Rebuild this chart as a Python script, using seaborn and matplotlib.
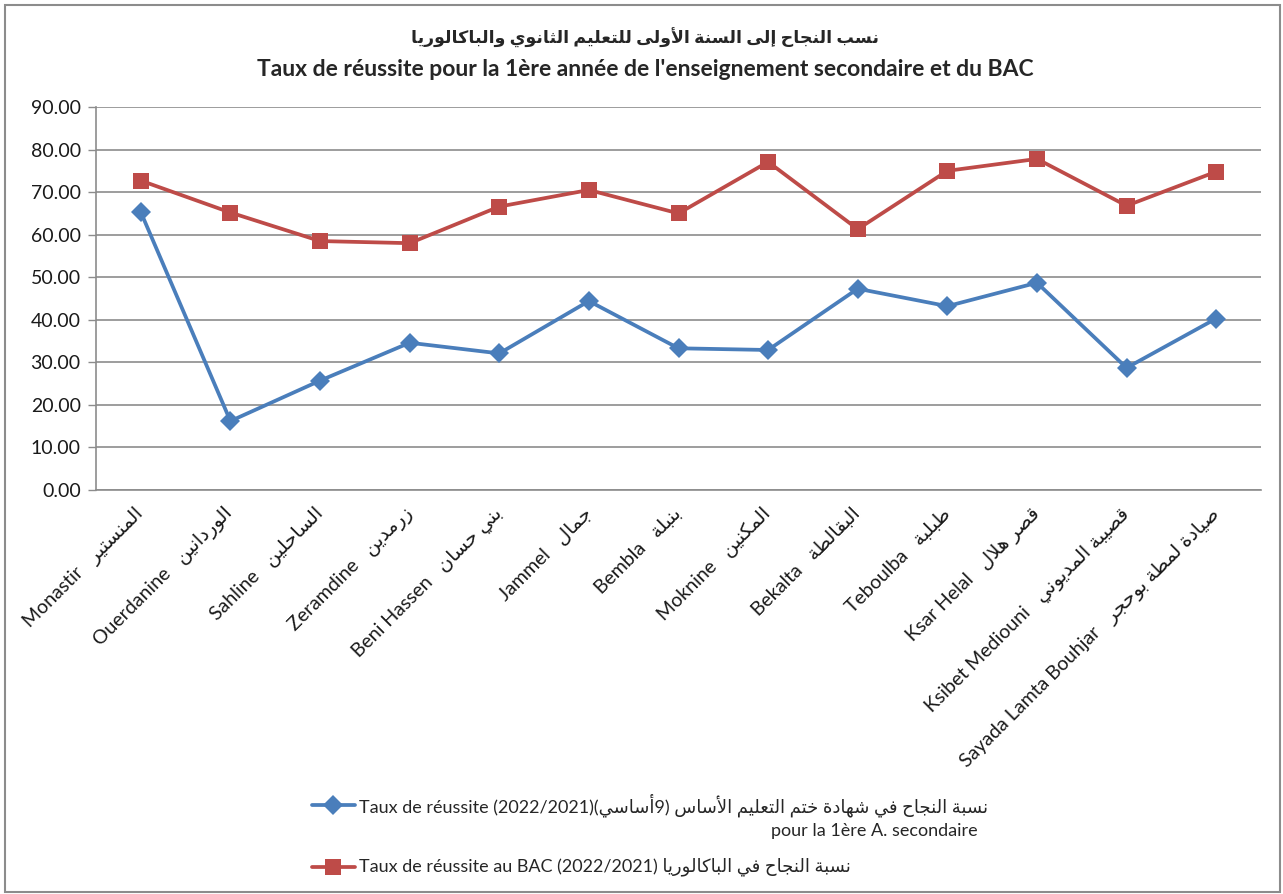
import numpy as np
import pandas as pd
import seaborn as sns
import matplotlib.pyplot as plt
from matplotlib.lines import Line2D
from matplotlib.patches import Rectangle

#========================================================================================================
# Data
#========================================================================================================

schools_fr = ['Monastir', 'Ouerdanine', 'Sahline', 'Zeramdine', 'Beni Hassen', 'Jammel', 'Bembla',
              'Moknine', 'Bekalta', 'Teboulba', 'Ksar Helal', 'Ksibet Mediouni', 'Sayada Lamta Bouhjar']
schools_ar = ['المنستير', 'الوردانين', 'الساحلين', 'زرمدين', 'بني حسان', 'جمال', 'بنبلة',
              'المكنين', 'البقالطة', 'طبلبة', 'قصر هلال', 'قصيبة المديوني', 'صيادة لمطة بوحجر']

#Success rate 9th year (access to 1st year secondary) and BAC, 2021/2022
taux_9eme = [65.3, 16.2, 25.7, 34.6, 32.1, 44.4, 33.3, 32.9, 47.3, 43.2, 48.7, 28.7, 40.3]
taux_bac = [72.7, 65.2, 58.5, 58.0, 66.6, 70.5, 65.0, 77.1, 61.3, 75.0, 77.8, 66.8, 74.8]

y_ticks = [0, 10, 20, 30, 40, 50, 60, 70, 80, 90]

#========================================================================================================
# Minimal Arabic shaping (matplotlib has no bidi / contextual forms)
#========================================================================================================

AR_LETTERS = "ءآأؤإئابةتثجحخدذرزسشصضطظعغفقكلمنهوىي"
AR_NFORMS = [1, 2, 2, 2, 2, 4, 2, 4, 2, 4, 4, 4, 4, 4, 2, 2, 2, 2, 4, 4, 4, 4, 4, 4, 4, 4, 4, 4, 4, 4, 4, 4, 4, 2, 2, 4]
AR_BASE = {}
code = 0xFE80
for ch, n in zip(AR_LETTERS, AR_NFORMS):
    AR_BASE[ch] = (code, n)
    code += n
LAM_ALEF = {'آ': 0xFEF5, 'أ': 0xFEF7, 'إ': 0xFEF9, 'ا': 0xFEFB}

def ar(text):
    out = []
    i = 0
    prev_joins = False
    while i < len(text):
        ch = text[i]
        if ch not in AR_BASE:
            out.append(ch)
            prev_joins = False
            i += 1
            continue
        nxt = text[i+1] if i+1 < len(text) else ''
        if ch == 'ل' and nxt in LAM_ALEF:
            out.append(chr(LAM_ALEF[nxt] + (1 if prev_joins else 0)))
            prev_joins = False
            i += 2
            continue
        base, n = AR_BASE[ch]
        joins_next = n == 4 and nxt in AR_BASE and nxt != 'ء'
        if n == 1: form = 0
        elif prev_joins and joins_next: form = 3
        elif prev_joins: form = 1
        elif joins_next: form = 2
        else: form = 0
        out.append(chr(base + form))
        prev_joins = joins_next
        i += 1
    return ''.join(reversed(out))

#========================================================================================================
# Plot
#========================================================================================================

sns.set_style("white")
fonts = ['Lato', 'DejaVu Sans']
plt.rcParams['font.family'] = fonts

W, H = 1283, 894
fig = plt.figure(figsize=(W/100, H/100), dpi=100)
ax = fig.add_axes([96/W, 1-490/H, (1261-96)/W, (490-107)/H])

blue = '#4A7EBB'
red = '#BE4B48'
xpos = np.arange(len(schools_fr))

df = pd.DataFrame({'x': xpos, 'neuf': taux_9eme, 'bac': taux_bac})
sns.lineplot(data=df, x='x', y='neuf', ax=ax, color=blue, linewidth=2.7, marker='D',
             markersize=10, markeredgewidth=0)
sns.lineplot(data=df, x='x', y='bac', ax=ax, color=red, linewidth=2.7, marker='s',
             markersize=12, markeredgewidth=0)

ax.set_xlim(-0.5, len(schools_fr)-0.5)
ax.set_ylim(0, 90)
ax.set_yticks(y_ticks)
ax.set_yticklabels([f'{v:.2f}' for v in y_ticks], fontsize=14, color='#1a1a1a')
ax.yaxis.grid(True, color='#8c8c8c', linewidth=1.2)
ax.set_axisbelow(True)
ax.set_xlabel('')
ax.set_ylabel('')

ax.set_xticks(xpos)
ax.set_xticklabels([f'{fr}   {ar(a)}' for fr, a in zip(schools_fr, schools_ar)],
                   rotation=45, ha='right', va='center', rotation_mode='anchor',
                   fontsize=14, color='#1a1a1a')
ax.set_xticks(np.arange(-0.5, len(schools_fr)), minor=True)
ax.tick_params(axis='x', which='major', length=0, pad=15)
ax.tick_params(axis='x', which='minor', length=6, width=1, color='#8c8c8c', direction='out')
ax.tick_params(axis='y', length=6, width=1, color='#8c8c8c', direction='out', pad=5, left=True)

for side in ['top', 'right']:
    ax.spines[side].set_visible(False)
for side in ['left', 'bottom']:
    ax.spines[side].set_color('#8c8c8c')
    ax.spines[side].set_linewidth(1.2)

#Titles
fig.text(645/W, 1-38/H, ar('نسب النجاح إلى السنة الأولى للتعليم الثانوي والباكالوريا'),
         ha='center', va='center', fontsize=12.5, fontweight='bold')
fig.text(645/W, 1-69/H, "Taux de réussite pour la 1ère année de l'enseignement secondaire et du BAC",
         ha='center', va='center', fontsize=16.5, fontweight='bold')

#Legend drawn by hand (first label has a right-aligned second line)
leg_x0, leg_x1 = 312/W, 355/W
for yy, col, mk, ms in [(805, blue, 'D', 10), (867, red, 's', 12)]:
    fig.add_artist(Line2D([leg_x0, (leg_x0+leg_x1)/2, leg_x1], [1-yy/H]*3, color=col, linewidth=2.7,
                          marker=mk, markersize=ms, markeredgewidth=0, markevery=[1]))
fig.text(359/W, 1-805/H, 'Taux de réussite (2022/2021)(' + ar('أساسي') + '9) ' +
         ar('نسبة النجاح في شهادة ختم التعليم الأساس'), ha='left', va='center', fontsize=13)
fig.text(978/W, 1-831/H, 'pour la 1ère A. secondaire', ha='right', va='center', fontsize=13)
fig.text(359/W, 1-867/H, 'Taux de réussite au BAC (2022/2021) ' + ar('نسبة النجاح في الباكالوريا'),
         ha='left', va='center', fontsize=13)

#Outer frame
fig.add_artist(Rectangle((5/W, 2/H), 1275/W, 887/H, transform=fig.transFigure, fill=False,
                         edgecolor='#8c8c8c', linewidth=1.5))

plt.savefig('out.png', dpi=100)
plt.close()
